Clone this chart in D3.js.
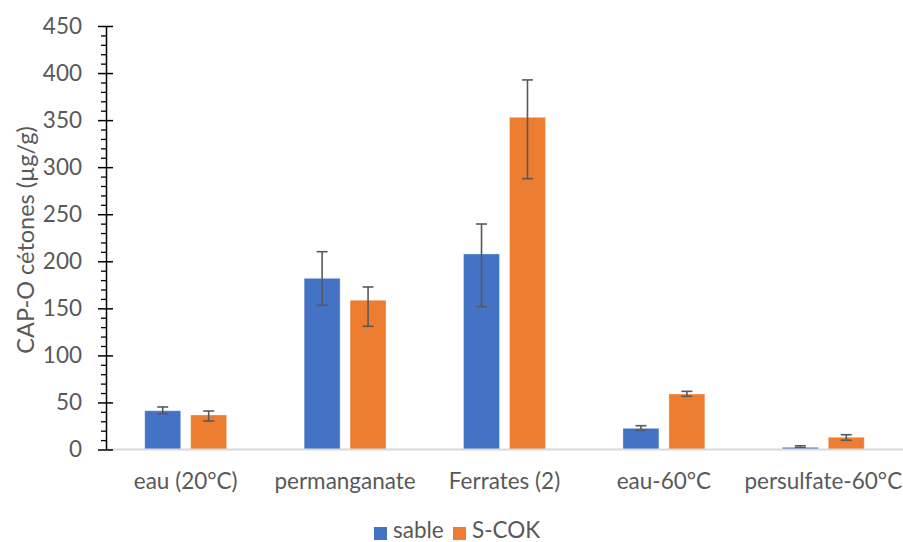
<!DOCTYPE html>
<html>
<head>
<meta charset="utf-8">
<script src="https://cdn.jsdelivr.net/npm/d3@7"></script>
<style>
  html, body { margin: 0; padding: 0; background: #fff; }
  svg { display: block; }
  text { font-family: Lato, "Open Sans", sans-serif; fill: #595959; }
</style>
</head>
<body>
<svg id="chart" width="903" height="542"></svg>
<script>
const categories = ["eau (20°C)", "permanganate", "Ferrates (2)", "eau-60°C", "persulfate-60°C"];
const seriesNames = ["sable", "S-COK"];
const sableValues = [41.2, 181.9, 207.8, 22.5, 2.3];
const sablePlus   = [4.0, 28.3, 31.8, 2.8, 1.6];
const sableMinus  = [3.2, 28.7, 56.0, 2.1, 0.3];
const scokValues  = [36.7, 158.6, 353.0, 59.0, 13.0];
const scokPlus    = [4.2, 14.1, 39.7, 2.8, 2.7];
const scokMinus   = [6.4, 27.7, 65.2, 2.5, 3.2];
const yTicks = [0, 50, 100, 150, 200, 250, 300, 350, 400, 450];
const colors = ["#4472C4", "#ED7D31"];
const yTitle = "CAP-O cétones (µg/g)";

const series = [
  { name: seriesNames[0], values: sableValues, plus: sablePlus, minus: sableMinus },
  { name: seriesNames[1], values: scokValues, plus: scokPlus, minus: scokMinus }
];

const svg = d3.select("#chart");
const plotLeft = 106, plotRight = 903, plotTop = 26, plotBottom = 449.5;
const fontSize = 22.5;

const y = d3.scaleLinear().domain([0, 450]).range([plotBottom, plotTop]);
const x0 = d3.scaleBand().domain(categories).range([plotLeft, plotRight]).paddingInner(0.486).paddingOuter(0.243);
const x1 = d3.scaleBand().domain(seriesNames).range([0, x0.bandwidth()]).paddingInner(0.217);

// bars
series.forEach((s, si) => {
  svg.append("g").selectAll("rect").data(categories).join("rect")
    .attr("x", d => x0(d) + x1(s.name))
    .attr("y", (d, i) => y(s.values[i]))
    .attr("width", x1.bandwidth())
    .attr("height", (d, i) => y(0) - y(s.values[i]))
    .attr("fill", colors[si])
    .attr("stroke", "#ffffff").attr("stroke-opacity", 0.35).attr("stroke-width", 1);
});

// error bars
series.forEach((s, si) => {
  const g = svg.append("g").attr("stroke", "#595959").attr("stroke-width", 1.6).attr("fill", "none");
  categories.forEach((c, i) => {
    const cx = x0(c) + x1(s.name) + x1.bandwidth() / 2;
    const yt = y(s.values[i] + s.plus[i]);
    const yb = y(s.values[i] - s.minus[i]);
    g.append("line").attr("x1", cx).attr("x2", cx).attr("y1", yt).attr("y2", yb);
    g.append("line").attr("x1", cx - 5.5).attr("x2", cx + 5.5).attr("y1", yt).attr("y2", yt);
    g.append("line").attr("x1", cx - 5.5).attr("x2", cx + 5.5).attr("y1", yb).attr("y2", yb);
  });
});

// x baseline
svg.append("line").attr("x1", plotLeft).attr("x2", plotRight).attr("y1", y(0)).attr("y2", y(0))
  .attr("stroke", "#d9d9d9").attr("stroke-width", 2);

// y axis with minor ticks
const minor = d3.range(0, 451, 10).filter(v => v % 50 !== 0);
svg.append("g").attr("transform", `translate(${plotLeft},0)`)
  .call(d3.axisLeft(y).tickValues(minor).tickSize(5).tickFormat(""))
  .call(g => g.select(".domain").remove())
  .call(g => g.selectAll("line").attr("stroke", "#000").attr("stroke-width", 1.3));

const yAxis = svg.append("g").attr("transform", `translate(${plotLeft},0)`)
  .call(d3.axisLeft(y).tickValues(yTicks).tickSize(0).tickPadding(24).tickFormat(d3.format("d")));
yAxis.select(".domain").attr("stroke", "#000").attr("stroke-width", 1.5);
yAxis.selectAll(".tick text").attr("font-size", fontSize).attr("fill", "#000")
  .style("font-family", "Lato, 'Open Sans', sans-serif");
yAxis.selectAll(".tick").append("line").attr("x1", -8).attr("x2", 7)
  .attr("stroke", "#000").attr("stroke-width", 1.5);

// x labels
svg.append("g").selectAll("text").data(categories).join("text")
  .attr("x", d => x0(d) + x0.bandwidth() / 2)
  .attr("y", 489)
  .attr("text-anchor", "middle")
  .attr("font-size", fontSize)
  .attr("fill", "#595959")
  .text(d => d);

// y title
svg.append("text")
  .attr("transform", "translate(34,240) rotate(-90)")
  .attr("text-anchor", "middle")
  .attr("font-size", 23.5)
  .attr("fill", "#000")
  .text(yTitle);

// legend
const legendX = [374, 453];
series.forEach((s, si) => {
  svg.append("rect").attr("x", legendX[si]).attr("y", 527).attr("width", 13).attr("height", 13).attr("fill", colors[si]);
  svg.append("text").attr("x", legendX[si] + 19).attr("y", 538).attr("font-size", fontSize).attr("fill", "#595959").text(s.name);
});
</script>
</body>
</html>
